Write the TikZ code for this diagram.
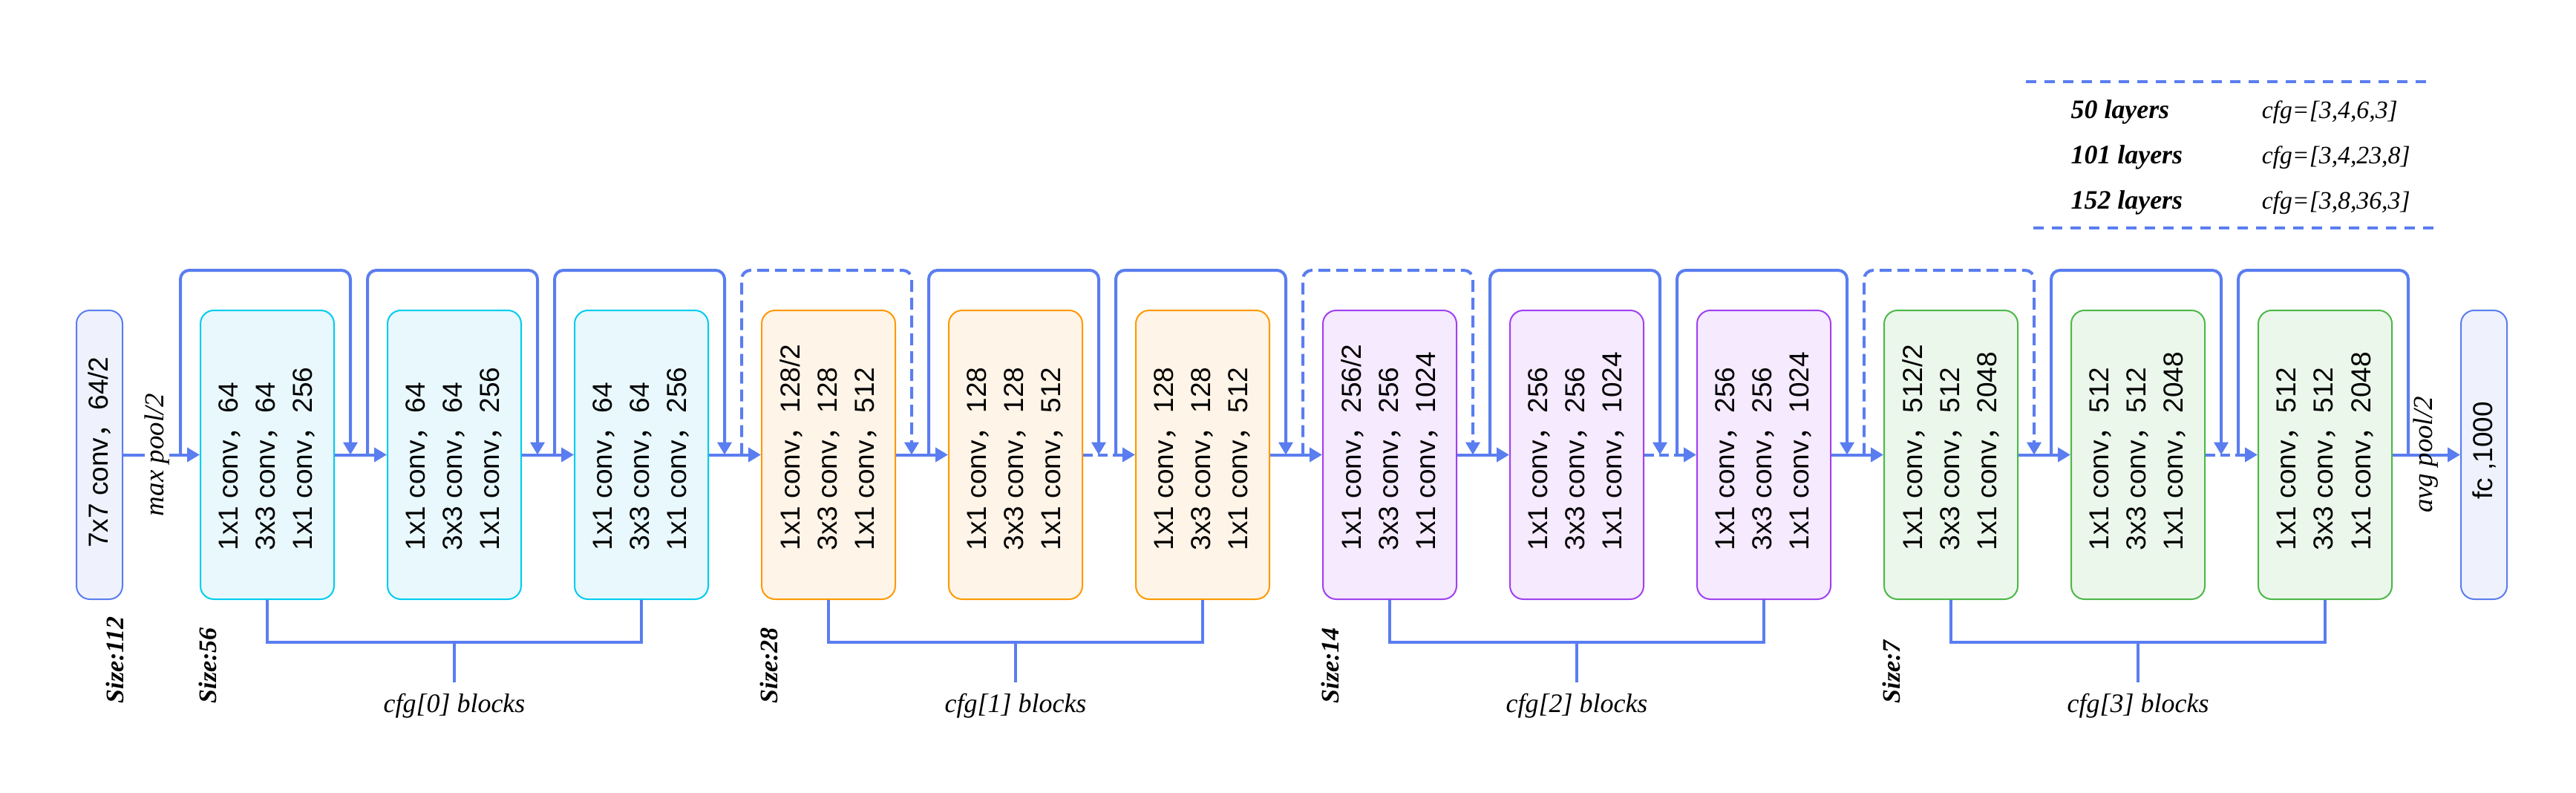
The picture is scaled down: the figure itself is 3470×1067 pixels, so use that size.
\documentclass[tikz,border=0pt]{standalone}
\usepackage{fontspec}
\usetikzlibrary{arrows.meta}
\newfontfamily\sansbox{Liberation Sans}
\newfontfamily\serifit{Liberation Serif}
\newfontfamily\cjkfont{Noto Sans CJK SC}
\newcommand\fwc{{\cjkfont ，}}
\definecolor{lineblue}{RGB}{90,125,240}
\definecolor{blueF}{RGB}{239,242,253}
\definecolor{cyanS}{RGB}{0,204,240}
\definecolor{cyanF}{RGB}{232,248,253}
\definecolor{orangeS}{RGB}{255,153,0}
\definecolor{orangeF}{RGB}{255,244,232}
\definecolor{purpleS}{RGB}{160,64,240}
\definecolor{purpleF}{RGB}{245,234,254}
\definecolor{greenS}{RGB}{76,184,72}
\definecolor{greenF}{RGB}{236,247,236}
\tikzset{
  conn/.style={draw=lineblue, line width=0.4mm},
  tip/.style={-{Triangle[length=1.7mm,width=1.9mm]}},
  maindash/.style={dash pattern=on 1.3mm off 0.7mm},
  loopdash/.style={dash pattern=on 1.6mm off 0.8mm},
  legdash/.style={draw=lineblue, line width=0.4mm, dash pattern=on 1.35mm off 1.15mm},
  blk/.style={rectangle, rounded corners=1.8mm, line width=0.2mm, minimum width=18mm, minimum height=38.9mm, inner sep=0pt},
  s1/.style={blk, draw=cyanS, fill=cyanF},
  s2/.style={blk, draw=orangeS, fill=orangeF},
  s3/.style={blk, draw=purpleS, fill=purpleF},
  s4/.style={blk, draw=greenS, fill=greenF},
  endbox/.style={rectangle, rounded corners=1.8mm, line width=0.2mm, draw=lineblue, fill=blueF, minimum width=6.2mm, minimum height=38.9mm, inner sep=0pt},
  boxtxt/.style={rotate=90, align=left, inner sep=0pt, font=\sansbox\fontsize{10.53pt}{14.23pt}\selectfont},
  pool/.style={rotate=90, inner sep=0pt, font=\serifit\fontsize{10.5pt}{12pt}\selectfont\itshape},
  sizelbl/.style={rotate=90, anchor=west, inner sep=0pt, font=\serifit\fontsize{9.67pt}{11pt}\selectfont\bfseries\itshape},
  cfglbl/.style={inner sep=0pt, font=\serifit\fontsize{10.24pt}{12pt}\selectfont\itshape},
  leglay/.style={anchor=base west, inner sep=0pt, font=\serifit\fontsize{10.2pt}{12pt}\selectfont\bfseries\itshape},
  legcfg/.style={anchor=base west, inner sep=0pt, font=\serifit\fontsize{9.6pt}{11pt}\selectfont\itshape},
}
\begin{document}
\begin{tikzpicture}[x=0.1mm,y=-0.1mm]
\useasboundingbox (0,0) rectangle (3470,1067);
% legend
\coordinate (lg1a) at (2729,109.5);
\coordinate (lg1b) at (3269,109.5);
\coordinate (lg2a) at (2739,307);
\coordinate (lg2b) at (3280,307);
\draw[legdash] (lg1a) -- (lg1b);
\draw[legdash] (lg2a) -- (lg2b);
\node[leglay] (la) at (2789,159) {50 layers};
\node[leglay] (lb) at (2789,220) {101 layers};
\node[leglay] (lc) at (2789,281) {152 layers};
\node[legcfg] (ca) at (3046,159) {cfg=[3,4,6,3]};
\node[legcfg] (cb) at (3046,220) {cfg=[3,4,23,8]};
\node[legcfg] (cc) at (3046,281) {cfg=[3,8,36,3]};
% end boxes
\node[endbox] (c1) at (134,612.5) {};
\node[boxtxt] (c1t) at (134,609) {7x7 conv\fwc64/2};
\node[endbox] (fc) at (3346,612.5) {};
\node[boxtxt] (fct) at (3346,607) {fc ,1000};
% blocks
\foreach \i/\st in {1/s1,2/s1,3/s1,4/s2,5/s2,6/s2,7/s3,8/s3,9/s3,10/s4,11/s4,12/s4}
  \node[\st] (b\i) at ({360+252*(\i-1)},612.5) {};
\foreach \i/\a/\b/\c in {1/64/64/256,2/64/64/256,3/64/64/256,
  4/{128/2}/128/512,5/128/128/512,6/128/128/512,
  7/{256/2}/256/1024,8/256/256/1024,9/256/256/1024,
  10/{512/2}/512/2048,11/512/512/2048,12/512/512/2048}
  \node[boxtxt, anchor=west] (t\i) at ([yshift=-12.95mm]b\i.center) {1x1 conv\fwc\a\\3x3 conv\fwc\b\\1x1 conv\fwc\c};
% skip loops
\coordinate (topy) at (0,364);
\foreach \i in {1,...,12} {
  \coordinate (L\i) at ([xshift=-2.6mm]b\i.west);
  \coordinate (R\i) at ([xshift=2.1mm]b\i.east);
}
\foreach \i/\sty in {1/solid,2/solid,3/solid,4/loopdash,5/solid,6/solid,7/loopdash,8/solid,9/solid,10/loopdash,11/solid}
  \draw[conn,tip,rounded corners=1.2mm,\sty] (L\i) |- (R\i |- topy) -- (R\i);
\draw[conn,rounded corners=1.2mm] (L12) |- (R12 |- topy) -- (R12);
% main line
\foreach \i/\j/\sty in {1/2/solid,2/3/solid,3/4/solid,4/5/solid,5/6/maindash,6/7/solid,7/8/solid,8/9/maindash,9/10/solid,10/11/solid,11/12/maindash}
  \draw[conn,tip,\sty] (b\i.east) -- (b\j.west);
\draw[conn,tip] (c1.east) -- node[pool, pos=0.44, fill=white] (mp) {max pool/2} (b1.west);
\draw[conn,tip] (b12.east) -- node[pool, pos=0.495] (ap) {avg pool/2} (fc.west);
% brackets
\foreach \k/\a/\b/\c in {0/1/2/3,1/4/5/6,2/7/8/9,3/10/11/12} {
  \draw[conn] (b\a.south) -- ++(0,57) -| (b\c.south);
  \coordinate (m\k) at ([yshift=-5.7mm]b\b.south);
  \coordinate (f\k) at ([yshift=-11.1mm]b\b.south);
  \draw[conn] (m\k) -- (f\k);
  \node[cfglbl] (cfg\k) at ([yshift=-14.3mm]b\b.south) {cfg[\k] blocks};
}
% size labels
\node[sizelbl] (sz0) at (155,948) {Size:112};
\node[sizelbl] (sz1) at (280,948) {Size:56};
\node[sizelbl] (sz2) at (1036,948) {Size:28};
\node[sizelbl] (sz3) at (1792,948) {Size:14};
\node[sizelbl] (sz4) at (2548,948) {Size:7};
\end{tikzpicture}
\end{document}
